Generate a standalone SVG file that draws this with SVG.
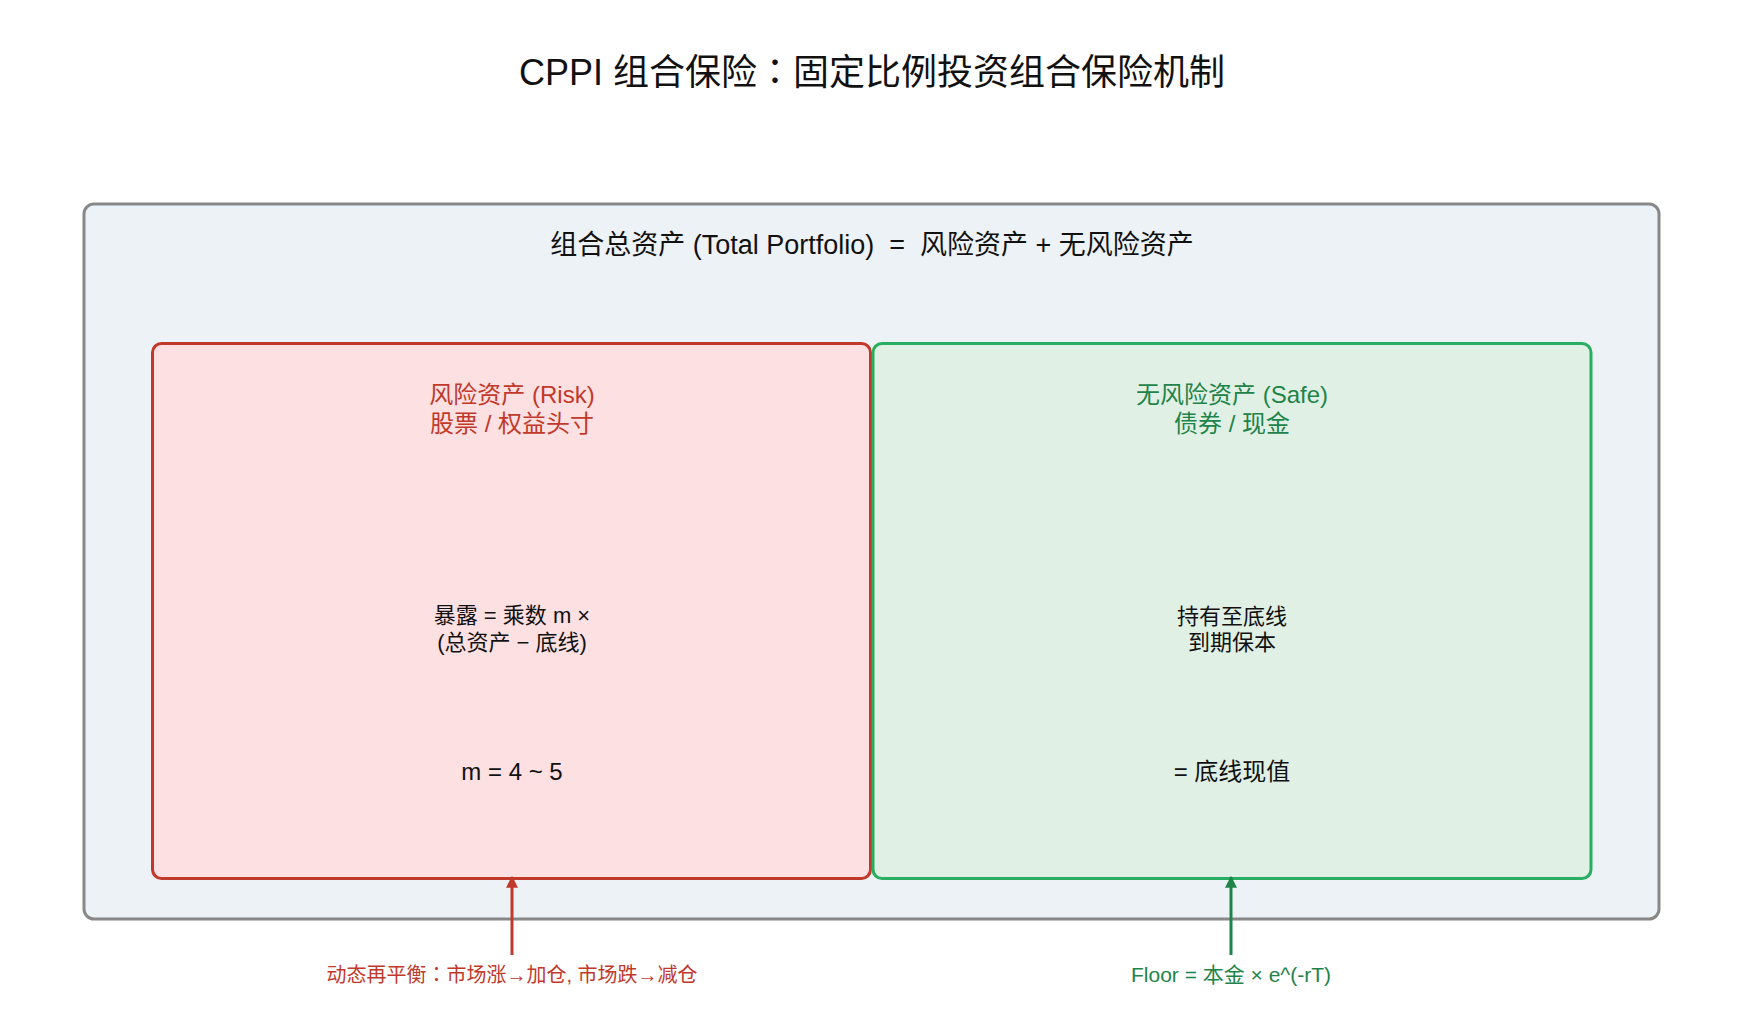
<svg xmlns="http://www.w3.org/2000/svg" width="1744" height="1024" viewBox="0 0 1744 1024">
<defs>
<style>
text{font-family:"Liberation Sans","Noto Sans CJK SC",sans-serif;text-anchor:middle;white-space:pre}
.title{font-size:36px;fill:#111}
.sub{font-size:27px;fill:#111}
.hd{font-size:24px}
.body{font-size:22px;fill:#111}
.big{font-size:24px;fill:#111}
.lbl{font-size:20px}
.flr{font-size:21px}
.red{fill:#c0392b}
.grn{fill:#1e8449}
.colon{font-family:"Noto Sans CJK TC","Noto Sans CJK SC",sans-serif}
</style>
<marker id="arrR" viewBox="0 0 10 10" refX="9" refY="5" markerWidth="4" markerHeight="4" markerUnits="strokeWidth" orient="auto">
<path d="M0,0 L10,5 L0,10 z" fill="#c0392b"/>
</marker>
<marker id="arrG" viewBox="0 0 10 10" refX="9" refY="5" markerWidth="4" markerHeight="4" markerUnits="strokeWidth" orient="auto">
<path d="M0,0 L10,5 L0,10 z" fill="#1e8449"/>
</marker>
</defs>
<rect width="1744" height="1024" fill="#ffffff"/>
<text class="title" x="872" y="85">CPPI 组合保险<tspan class="colon">：</tspan>固定比例投资组合保险机制</text>
<g id="portfolio">
<rect x="84" y="204" width="1575" height="715" rx="10" fill="#edf2f6" stroke="#888888" stroke-width="3"/>
<text class="sub" x="872" y="254" xml:space="preserve">组合总资产 (Total Portfolio)  =  风险资产 + 无风险资产</text>
</g>
<g id="risk">
<rect x="152.5" y="343.5" width="718" height="535" rx="9" fill="#fde0e1" stroke="#c0392b" stroke-width="3"/>
<text class="hd red" x="512" y="403">风险资产 (Risk)</text>
<text class="hd red" x="512" y="432">股票 / 权益头寸</text>
<text class="body" x="512" y="623">暴露 = 乘数 m ×</text>
<text class="body" x="512" y="650">(总资产 − 底线)</text>
<text class="big" x="512" y="780">m = 4 ~ 5</text>
</g>
<g id="safe">
<rect x="873" y="343.5" width="718" height="535" rx="9" fill="#e1f0e5" stroke="#27ae60" stroke-width="3"/>
<text class="hd grn" x="1232" y="403">无风险资产 (Safe)</text>
<text class="hd grn" x="1232" y="432">债券 / 现金</text>
<text class="body" x="1232" y="624">持有至底线</text>
<text class="body" x="1232" y="650">到期保本</text>
<text class="big" x="1232" y="780">= 底线现值</text>
</g>
<g id="connectors">
<line x1="512" y1="955" x2="512" y2="877" stroke="#c0392b" stroke-width="3" marker-end="url(#arrR)"/>
<line x1="1231" y1="955" x2="1231" y2="877" stroke="#1e8449" stroke-width="3" marker-end="url(#arrG)"/>
</g>
<g id="label-rebalance">
<text class="lbl red" x="512" y="982">动态再平衡<tspan class="colon">：</tspan>市场涨→加仓, 市场跌→减仓</text>
</g>
<g id="label-floor">
<text class="flr grn" x="1231" y="982">Floor = 本金 × e^(-rT)</text>
</g>
</svg>
